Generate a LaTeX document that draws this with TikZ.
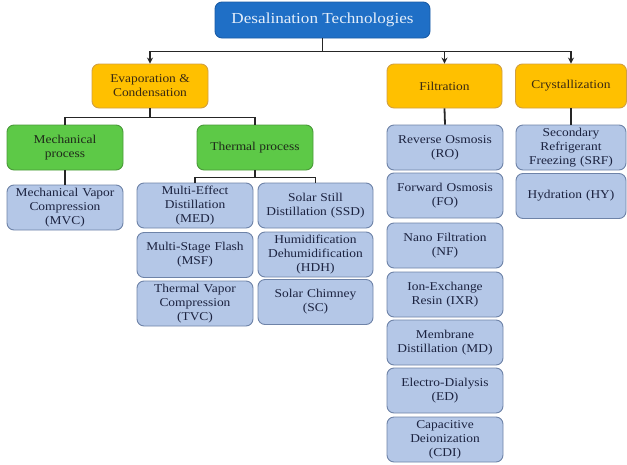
\documentclass[tikz,border=0pt]{standalone}
\usepackage{fontspec}
\setmainfont[FakeStretch=1.12]{Liberation Serif}
\usetikzlibrary{arrows.meta}
\definecolor{topfill}{HTML}{1F6FC6}
\definecolor{topdraw}{HTML}{1A5CA6}
\definecolor{toptext}{HTML}{E4EEFA}
\definecolor{orfill}{HTML}{FFC000}
\definecolor{ordraw}{HTML}{D2A040}
\definecolor{ortext}{HTML}{3B2A12}
\definecolor{grfill}{HTML}{5DC947}
\definecolor{grdraw}{HTML}{4A9A3A}
\definecolor{grtext}{HTML}{1F2A1A}
\definecolor{blfill}{HTML}{B4C7E7}
\definecolor{bldraw}{HTML}{6E83A8}
\definecolor{bltext}{HTML}{1C2340}
\definecolor{linec}{HTML}{262626}
\tikzset{
  box/.style={rounded corners=7pt, inner sep=1pt, align=center, line width=0.9pt,
    font=\fontsize{12}{14}\selectfont},
  topbox/.style={box, fill=topfill, draw=topdraw, text=toptext,
    minimum width=215pt, minimum height=36pt, font=\fontsize{15.3}{17}\selectfont},
  orbox/.style={box, fill=orfill, draw=ordraw, text=ortext, minimum height=44pt},
  grbox/.style={box, fill=grfill, draw=grdraw, text=grtext, minimum width=116pt, minimum height=45pt},
  blbox/.style={box, fill=blfill, draw=bldraw, text=bltext, minimum width=116pt,
    minimum height=45pt, text width=113pt},
  conn/.style={draw=linec, line width=1.8pt},
  arr/.style={conn, -{Stealth[length=6pt,width=6pt]}}
}
\begin{document}
\begin{tikzpicture}[x=1pt,y=-1pt]
\useasboundingbox (0,0) rectangle (627,464);
% top
\node[topbox] (top) at (322.5,20) {Desalination Technologies};
% level 1
\node[orbox, minimum width=116pt] (evap) at (150,86) {Evaporation \&\\Condensation};
\node[orbox, minimum width=115pt] (filt) at (444.5,86) {Filtration};
\node[orbox, minimum width=111pt] (cryst) at (571,86) {Crystallization};
% level 2
\node[grbox] (mech) at (65,147.5) {Mechanical\\process};
\node[grbox] (therm) at (255,147.5) {Thermal process};
% mechanical
\node[blbox] (mvc) at (65,207.5) {Mechanical Vapor\\Compression\\(MVC)};
% thermal
\node[blbox] (med) at (195,205.5) {Multi-Effect\\Distillation\\(MED)};
\node[blbox] (msf) at (195,255) {Multi-Stage Flash\\(MSF)};
\node[blbox] (tvc) at (195,303.5) {Thermal Vapor\\Compression\\(TVC)};
\node[blbox, minimum width=115pt] (ssd) at (315.5,205.5) {Solar Still\\Distillation (SSD)};
\node[blbox, minimum width=115pt] (hdh) at (315.5,254.5) {Humidification\\Dehumidification\\(HDH)};
\node[blbox, minimum width=115pt] (sc) at (315.5,302) {Solar Chimney\\(SC)};
% filtration
\node[blbox] (ro) at (445,147.5) {Reverse Osmosis\\(RO)};
\node[blbox] (fo) at (445,195.5) {Forward Osmosis\\(FO)};
\node[blbox] (nf) at (445,245.5) {Nano Filtration\\(NF)};
\node[blbox] (ixr) at (445,294.5) {Ion-Exchange\\Resin (IXR)};
\node[blbox] (md) at (445,342.5) {Membrane\\Distillation (MD)};
\node[blbox] (ed) at (445,390.5) {Electro-Dialysis\\(ED)};
\node[blbox] (cdi) at (445,439.5) {Capacitive\\Deionization\\(CDI)};
% crystallization
\node[blbox, minimum width=110pt, text width=107pt] (srf) at (571,147.5) {Secondary\\Refrigerant\\Freezing (SRF)};
\node[blbox, minimum width=110pt, text width=107pt] (hy) at (571,196) {Hydration (HY)};
% connectors
\draw[conn] (top.south) -- ++(0,13) coordinate (bus);
\draw[arr] (bus) -| (evap.north);
\draw[arr] (bus) -| (filt.north);
\draw[arr] (bus) -| (cryst.north);
\draw[conn] (evap.south) -- ++(0,9) coordinate (eb);
\draw[conn] (eb) -| (mech.north);
\draw[conn] (eb) -| (therm.north);
\draw[conn] (mech.south) -- (mvc.north);
\draw[conn] (therm.south) -- ++(0,7) coordinate (tb);
\draw[conn] (tb) -| (med.north);
\draw[conn] (tb) -| (ssd.north);
\draw[conn] (filt.south) -- (ro.north);
\draw[conn] (cryst.south) -- (srf.north);
\end{tikzpicture}
\end{document}
